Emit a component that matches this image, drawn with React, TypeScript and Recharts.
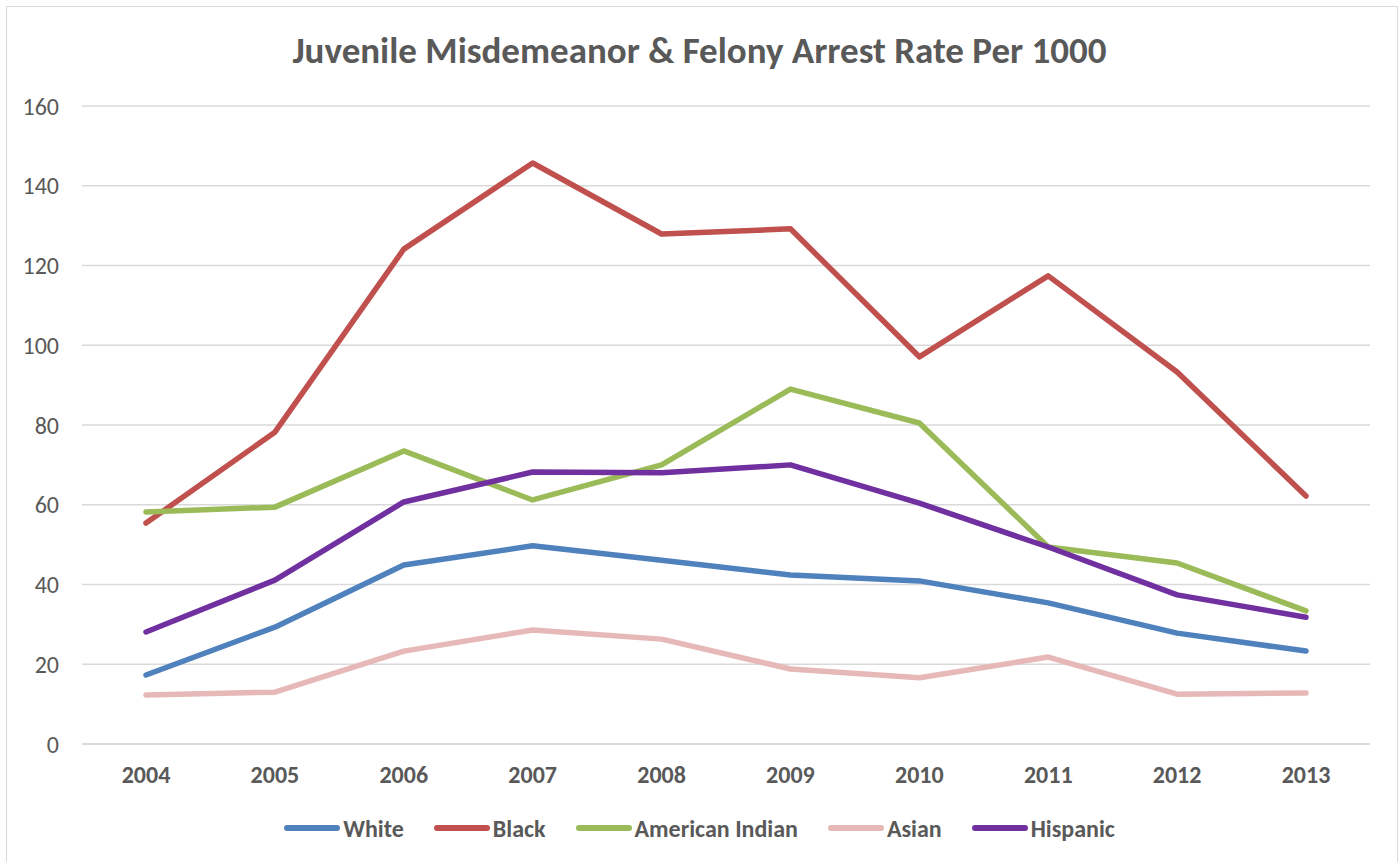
import { LineChart, Line, XAxis, YAxis, CartesianGrid } from "recharts";

const years = ["2004", "2005", "2006", "2007", "2008", "2009", "2010", "2011", "2012", "2013"];
const white = [17.3, 29.3, 44.9, 49.7, 46.1, 42.4, 40.9, 35.4, 27.8, 23.3];
const black = [55.4, 78.2, 124.1, 145.7, 127.9, 129.2, 97.1, 117.4, 93.3, 62.2];
const americanIndian = [58.2, 59.4, 73.5, 61.2, 70.0, 89.0, 80.5, 49.4, 45.4, 33.4];
const asian = [12.3, 13.0, 23.3, 28.6, 26.3, 18.8, 16.6, 21.8, 12.5, 12.8];
const hispanic = [28.1, 41.1, 60.7, 68.2, 68.0, 70.0, 60.4, 49.4, 37.4, 31.8];
const yTicks = [0, 20, 40, 60, 80, 100, 120, 140, 160];

const seriesList = [
  { key: "White", values: white, color: "#4f81bd" },
  { key: "Black", values: black, color: "#c0504d" },
  { key: "American Indian", values: americanIndian, color: "#9bbb59" },
  { key: "Asian", values: asian, color: "#e6b9b8" },
  { key: "Hispanic", values: hispanic, color: "#7030a0" },
];

const data = years.map((year, i) => {
  const row: any = { year };
  seriesList.forEach((s) => { row[s.key] = s.values[i]; });
  return row;
});

const font = "Carlito, Lato, 'Liberation Sans', sans-serif";

function LegendRow() {
  return (
    <div style={{ position: "absolute", left: 0, top: 813, width: 1399, height: 30, display: "flex", justifyContent: "center", alignItems: "center",
      fontFamily: font, fontSize: 24, fontWeight: 700, color: "#595959" }}>
      {seriesList.map((s, i) => (
        <div key={s.key} style={{ display: "flex", alignItems: "center", marginLeft: i === 0 ? 0 : 30 }}>
          <span style={{ display: "inline-block", width: 56, height: 6, borderRadius: 3, background: s.color, marginRight: 3 }} />
          <span>{s.key}</span>
        </div>
      ))}
    </div>
  );
}

export default function App() {
  return (
    <div style={{ position: "absolute", left: 0, top: 0, width: 1399, height: 862, background: "#fff", overflow: "hidden" }}>
      <div style={{ position: "absolute", left: 6, top: 6, width: 1392, height: 870, border: "1px solid #d9d9d9", boxSizing: "border-box" }} />
      <div style={{ position: "absolute", left: 0, top: 29, width: 1399, textAlign: "center", lineHeight: 1.2, fontFamily: font, fontSize: 37, fontWeight: 700, color: "#595959" }}>
        Juvenile Misdemeanor &amp; Felony Arrest Rate Per 1000
      </div>
      <LineChart width={1399} height={862} data={data} margin={{ top: 106, right: 29, bottom: 0, left: 0 }} style={{ position: "absolute", left: 0, top: 0 }}>
        <CartesianGrid vertical={false} stroke="#d9d9d9" strokeWidth={1.5} />
        <XAxis dataKey="year" padding={{ left: 64, right: 64 }} axisLine={{ stroke: "#d9d9d9", strokeWidth: 1.5 }} tickLine={false} tickSize={0} tickMargin={22} height={118}
          tick={{ fill: "#595959", fontFamily: font, fontSize: 24, fontWeight: 700 }} />
        <YAxis domain={[0, 160]} ticks={yTicks} width={82} axisLine={false} tickLine={false} tickSize={0} tickMargin={23}
          tick={{ fill: "#595959", fontFamily: font, fontSize: 24 }} />
        {seriesList.map((s) => (
          <Line key={s.key} dataKey={s.key} stroke={s.color} strokeWidth={5.5} dot={false} strokeLinecap="round" strokeLinejoin="round" isAnimationActive={false} />
        ))}
      </LineChart>
      <LegendRow />
    </div>
  );
}
